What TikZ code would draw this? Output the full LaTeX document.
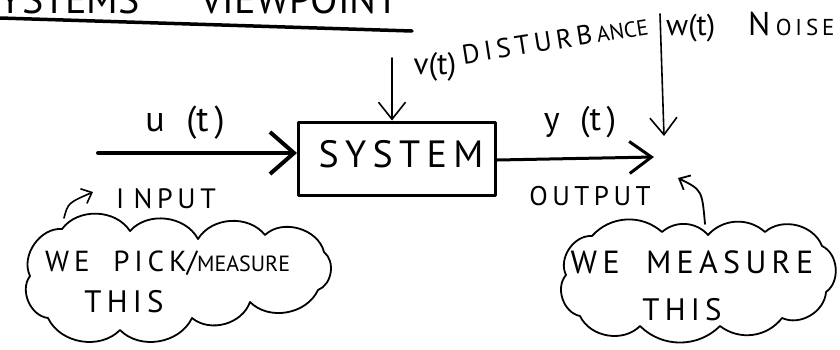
\documentclass[tikz,border=0pt]{standalone}
\usepackage{fontspec}
\setmainfont{PT Sans}
\usetikzlibrary{arrows.meta}
\tikzset{
  hand/.style={font=\fontsize{#1}{#1}\selectfont, inner sep=0pt, anchor=center},
  bigtip/.style={-{Straight Barb[length=24pt,width=42pt]}},
  midtip/.style={-{Straight Barb[length=22pt,width=32pt]}},
  thintip/.style={-{Straight Barb[length=17pt,width=27pt]}},
  smalltip/.style={-{Straight Barb[length=9pt,width=16pt]}},
  thought/.style={draw, line width=1.8pt},
  puff/.style={bend left=#1},
}
\begin{document}
\begin{tikzpicture}[x=1pt,y=-1pt, line cap=round, line join=round]
\useasboundingbox (0,0) rectangle (840,349);
\clip (0,0) rectangle (840,349);

% title (cut off at the top)
\node[hand=40, anchor=base east] (t1) at (140,13) {SYSTEMS};
\node[hand=40, anchor=base west] (t2) at (200,13) {VIEWPOINT};
\coordinate (ul1) at (0,18);
\coordinate (ul2) at (412,31);
\draw[line width=3.5pt] (ul1) -- (ul2);

% system box
\node[draw, line width=3pt, minimum width=197pt, minimum height=73pt, inner sep=0pt] (sys) at (397,158.5) {};
\node[hand=38] (systxt) at (401,154) {S\,Y\,S\,T\,E\,M};

% input
\coordinate (uin) at (98,153);
\draw[line width=4pt, bigtip] (uin) -- (uin -| sys.west);
\node[hand=36] (ulab) at (185,123) {u\,\, (t\,)};
\node[hand=28] (inlab) at (166,199) {I\,\,N\,P\,U\,T};

% disturbance
\coordinate (dtop) at (392,58);
\draw[line width=1.6pt, thintip] (dtop) -- (dtop |- sys.north);
\node[hand=31] (vlab) at (435,67) {v(t)};
\node[hand=27, rotate=9] (dlab) at (555,40) {D\,I\,S\,T\,U\,R\,B\,{\fontsize{22}{22}\selectfont ANCE}};

% output
\coordinate (yend) at (654,157);
\draw[line width=3pt, midtip] (sys.east |- 0,160) -- (yend);
\node[hand=34] (ylab) at (580,122) {y\,\, (t\,)};
\node[hand=27] (outlab) at (590,196) {O\,U\,T\,P\,U\,T};

% noise
\coordinate (ntop) at (660,14);
\coordinate (nend) at (664,136);
\draw[line width=1.6pt, thintip] (ntop) -- (nend);
\node[hand=30, anchor=west] (wlab) at (666,27) {w(t)\;\;\; {\fontsize{33}{33}\selectfont N\,}{\fontsize{23}{23}\selectfont O\,I\,S\,E}};

% left cloud
\draw[thought] (62,229) to[puff=55] (130,231) to[puff=55] (198,239) to[puff=55] (265,235)
  to[puff=60] (324,252) to[puff=60] (318,290) to[puff=55] (250,302) to[puff=55] (192,318)
  to[puff=55] (120,330) to[puff=55] (48,318) to[puff=60] (30,276) to[puff=60] (62,229) -- cycle;
\node[hand=29, anchor=base west] (c1a) at (45,271) {W\,E\;\; P\,I\,C\,K/{\fontsize{22}{22}\selectfont MEASURE}};
\node[hand=31] (c1b) at (124,302) {T\,H\,I\,S};

% right cloud
\draw[thought] (592,236) to[puff=45] (662,232) to[puff=45] (708,235) to[puff=45] (765,232)
  to[puff=55] (822,246) to[puff=60] (826,292) to[puff=55] (782,318) to[puff=45] (720,326)
  to[puff=45] (640,326) to[puff=55] (580,316) to[puff=60] (566,275) to[puff=60] (592,236) -- cycle;
\node[hand=32] (c2a) at (692,262) {W\,E\;\; M\,E\,A\,S\,U\,R\,E};
\node[hand=31] (c2b) at (682,310) {T\,H\,I\,S};

% pointer arrows from clouds
\coordinate (p1s) at (64,218);
\coordinate (p1e) at (93,192);
\draw[line width=1.6pt, smalltip] (p1s) .. controls (68,203) .. (p1e);
\coordinate (p2s) at (705,224);
\coordinate (p2e) at (678,178);
\draw[line width=1.8pt, smalltip] (p2s) .. controls (702,190) .. (p2e);
\end{tikzpicture}
\end{document}
